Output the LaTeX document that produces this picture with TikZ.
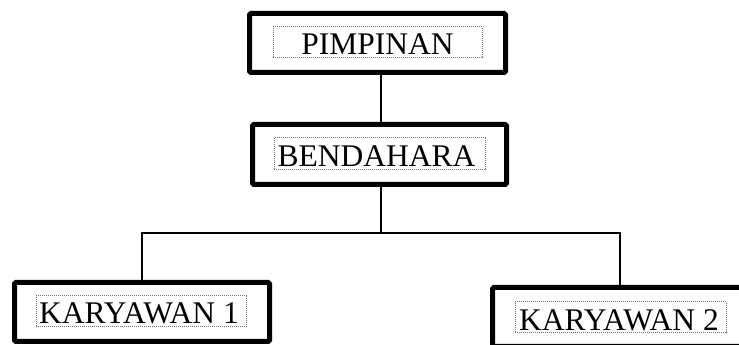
\documentclass[tikz,border=0pt]{standalone}
\usepackage{fontspec}
\setmainfont{Liberation Serif}
\begin{document}
\begin{tikzpicture}[x=1pt,y=1pt,
  outerbox/.style={draw=black,line width=5pt,rounded corners=1.5pt,fill=white,minimum width=255pt,minimum height=59pt,inner sep=0pt},
  innerbox/.style={draw=black!55,densely dotted,line width=1pt,minimum height=31pt,inner sep=0pt},
  lbl/.style={anchor=base,font=\fontsize{31.5}{31.5}\selectfont,inner sep=0pt},
  conn/.style={draw=black,line width=2pt}]
\useasboundingbox (0,0) rectangle (739,345);
% boxes
\node[outerbox,minimum width=256pt] (pimpinan) at (377.5,302) {};
\node[outerbox,minimum height=60pt,minimum width=254pt] (bendahara) at (379.5,190.5) {};
\node[outerbox] (k1) at (142,33) {};
\node[outerbox] (k2) at (620,28) {};
% inner dotted frames
\node[innerbox,minimum width=209pt] (pi) at (377.5,302.5) {};
\node[innerbox,minimum width=211pt,minimum height=32pt] (bi) at (379.5,191) {};
\node[innerbox,minimum width=210pt] (k1i) at (141,33.5) {};
\node[innerbox,minimum width=211pt] (k2i) at (620.5,27.5) {};
% labels
\node[lbl] (tp) at (377.5,290) {PIMPINAN};
\node[lbl] (tb) at (376.5,178) {BENDAHARA};
\node[lbl] (tk1) at (139,21) {KARYAWAN 1};
\node[lbl] (tk2) at (619,14) {KARYAWAN 2};
% connectors
\coordinate (j) at (381,112);
\draw[conn] (pimpinan.south -| j) -- (bendahara.north -| j);
\draw[conn] (bendahara.south -| j) -- (j);
\draw[conn] (k1.north) |- (j) -| (k2.north);
\end{tikzpicture}
\end{document}
